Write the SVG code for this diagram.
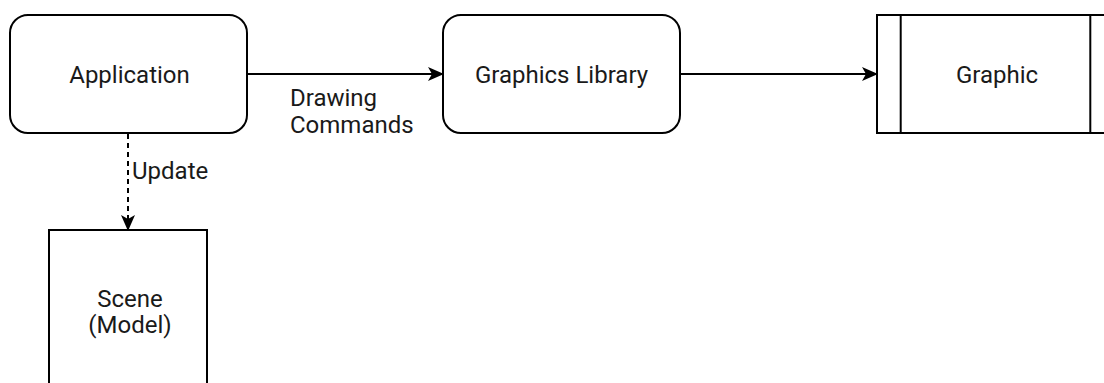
<svg xmlns="http://www.w3.org/2000/svg" width="1104" height="383" viewBox="0 0 1104 383">
<style>
.n{fill:#fff;stroke:#000;stroke-width:2}
.t{font-family:Roboto,"Liberation Sans",sans-serif;font-size:24px;fill:#1a1a1a}
.c{stroke:#000;stroke-width:2;fill:none}
</style>
<defs>
<marker id="a" markerWidth="16" markerHeight="16" refX="15" refY="8" orient="auto" markerUnits="userSpaceOnUse">
<path d="M0,1 L16,8 L0,15 L4,8 Z" fill="#000"/>
</marker>
</defs>
<rect width="1104" height="383" fill="#fff"/>
<g id="connectors">
<line class="c" x1="247" y1="74" x2="443" y2="74" marker-end="url(#a)"/>
<line class="c" x1="680" y1="74" x2="877" y2="74" marker-end="url(#a)"/>
<line class="c" x1="128" y1="134" x2="128" y2="230" stroke-dasharray="5 4" marker-end="url(#a)"/>
<text class="t" x="290" y="106">Drawing</text>
<text class="t" x="290" y="133">Commands</text>
<text class="t" x="132" y="179">Update</text>
</g>
<g id="application">
<rect class="n" x="10" y="15" width="237" height="118" rx="18"/>
<text class="t" x="129.5" y="83" text-anchor="middle">Application</text>
</g>
<g id="graphics-library">
<rect class="n" x="443" y="15" width="237" height="118" rx="18"/>
<text class="t" x="561.5" y="83" text-anchor="middle">Graphics Library</text>
</g>
<g id="graphic">
<rect class="n" x="877" y="15" width="237" height="118"/>
<line class="c" x1="900.7" y1="15" x2="900.7" y2="133"/>
<line class="c" x1="1090.3" y1="15" x2="1090.3" y2="133"/>
<text class="t" x="997" y="83" text-anchor="middle">Graphic</text>
</g>
<g id="scene">
<rect class="n" x="49" y="230" width="158" height="170"/>
<text class="t" x="130" y="307" text-anchor="middle">Scene</text>
<text class="t" x="130" y="333" text-anchor="middle">(Model)</text>
</g>
</svg>
